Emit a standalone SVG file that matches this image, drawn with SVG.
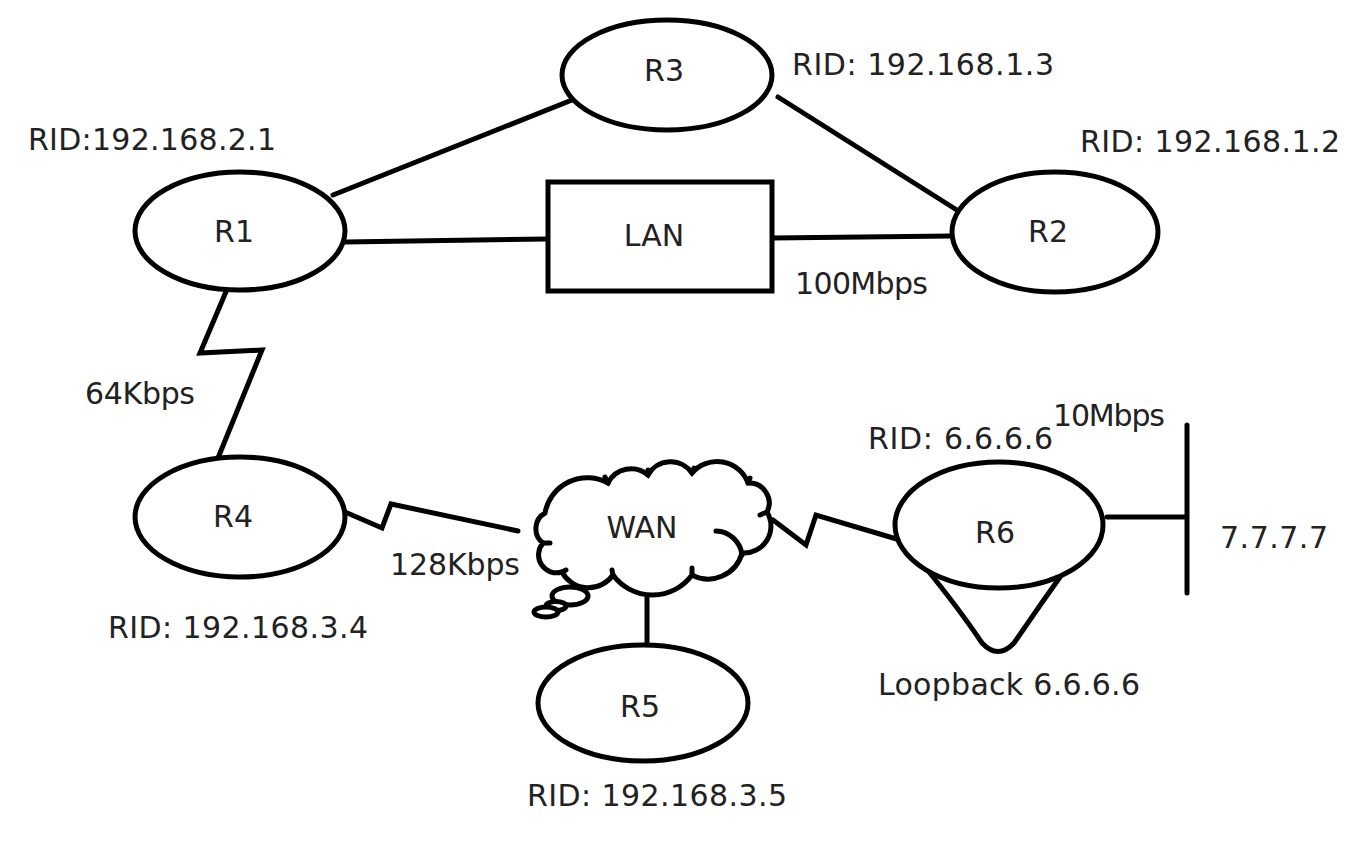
<svg xmlns="http://www.w3.org/2000/svg" width="1367" height="845" viewBox="0 0 1367 845">
<style>
.n{fill:#fff;stroke:#000;stroke-width:5}
.c{fill:none;stroke:#000;stroke-width:5;stroke-linejoin:miter;stroke-linecap:round}
text{font-family:"DejaVu Sans","Liberation Sans",sans-serif;font-size:30px;fill:#222}
.m{text-anchor:middle}
</style>
<rect width="1367" height="845" fill="#fff"/>
<g id="connectors">
<line class="c" x1="333" y1="195" x2="572" y2="100"/>
<line class="c" x1="778" y1="97" x2="960" y2="212"/>
<line class="c" x1="345" y1="242" x2="548" y2="239"/>
<line class="c" x1="772" y1="238" x2="952" y2="236"/>
<polyline class="c" points="228,287 200,353 262,350 218,458"/>
<polyline class="c" points="345,512 382,528 391,504 518,531"/>
<polyline class="c" points="773,520 806,545 816,515 900,540"/>
<line class="c" x1="647" y1="595" x2="647" y2="642"/>
<line class="c" x1="1107" y1="517" x2="1185" y2="517"/>
<line class="c" x1="1187" y1="425" x2="1187" y2="593"/>
<path class="c" d="M925,567 Q960,610 982,643 Q998,660 1014,643 Q1040,605 1065,570"/>
</g>
<g id="R3"><ellipse class="n" cx="667" cy="75" rx="105" ry="55"/><text class="m" x="664" y="81">R3</text></g>
<g id="R1"><ellipse class="n" cx="240" cy="231" rx="105" ry="59"/><text class="m" x="234" y="242">R1</text></g>
<g id="LAN"><rect class="n" x="548" y="182" width="224" height="109"/><text class="m" x="654" y="246">LAN</text></g>
<g id="R2"><ellipse class="n" cx="1055" cy="232" rx="103" ry="60"/><text class="m" x="1048" y="242">R2</text></g>
<g id="R4"><ellipse class="n" cx="240" cy="517" rx="105" ry="60"/><text class="m" x="233" y="527">R4</text></g>
<g id="WAN">
<path class="n" d="M543,543 A18,18 0 0 1 545,513 A43,43 0 0 1 608,483 A26,26 0 0 1 648,475 A26,26 0 0 1 692,473 A33,33 0 0 1 748,483 A20,20 0 0 1 767,512 A27,27 0 0 1 742,553 A35,35 0 0 1 692,575 A49,49 0 0 1 613,575 A30,30 0 0 1 562,572 A18,18 0 0 1 543,543 Z"/>
<path class="c" d="M716,531 A27,27 0 0 1 742,555"/>
<path class="c" d="M608,483 L605,477 M648,475 L648,470 M692,473 L694,468 M748,483 L750,478 M767,512 L760,515 M543,543 L550,543 M562,572 L566,570 M613,575 L612,570 M692,575 L692,568"/>
<ellipse class="n" cx="570" cy="596" rx="18" ry="9"/>
<ellipse class="n" cx="556" cy="606" rx="10" ry="4.5"/>
<ellipse class="n" cx="546" cy="612" rx="12" ry="5"/>
<text class="m" x="642" y="538">WAN</text>
</g>
<g id="R5"><ellipse class="n" cx="643" cy="703" rx="105" ry="58"/><text class="m" x="640" y="717">R5</text></g>
<g id="R6"><ellipse class="n" cx="999" cy="525" rx="104" ry="63"/><text class="m" x="995" y="543">R6</text></g>
<g id="labels">
<text x="792" y="75" textLength="262" lengthAdjust="spacing">RID: 192.168.1.3</text>
<text x="28" y="150" textLength="248" lengthAdjust="spacing">RID:192.168.2.1</text>
<text x="1080" y="152" textLength="260" lengthAdjust="spacing">RID: 192.168.1.2</text>
<text x="795" y="294" textLength="133" lengthAdjust="spacing">100Mbps</text>
<text x="85" y="404" textLength="110" lengthAdjust="spacing">64Kbps</text>
<text x="390" y="575" textLength="130" lengthAdjust="spacing">128Kbps</text>
<text x="108" y="638" textLength="260" lengthAdjust="spacing">RID: 192.168.3.4</text>
<text x="527" y="806" textLength="260" lengthAdjust="spacing">RID: 192.168.3.5</text>
<text x="868" y="449" textLength="185" lengthAdjust="spacing">RID: 6.6.6.6</text>
<text x="1053" y="426" textLength="112" lengthAdjust="spacing">10Mbps</text>
<text x="1220" y="548" textLength="108" lengthAdjust="spacing">7.7.7.7</text>
<text x="878" y="695" textLength="262" lengthAdjust="spacing">Loopback 6.6.6.6</text>
</g>
</svg>
